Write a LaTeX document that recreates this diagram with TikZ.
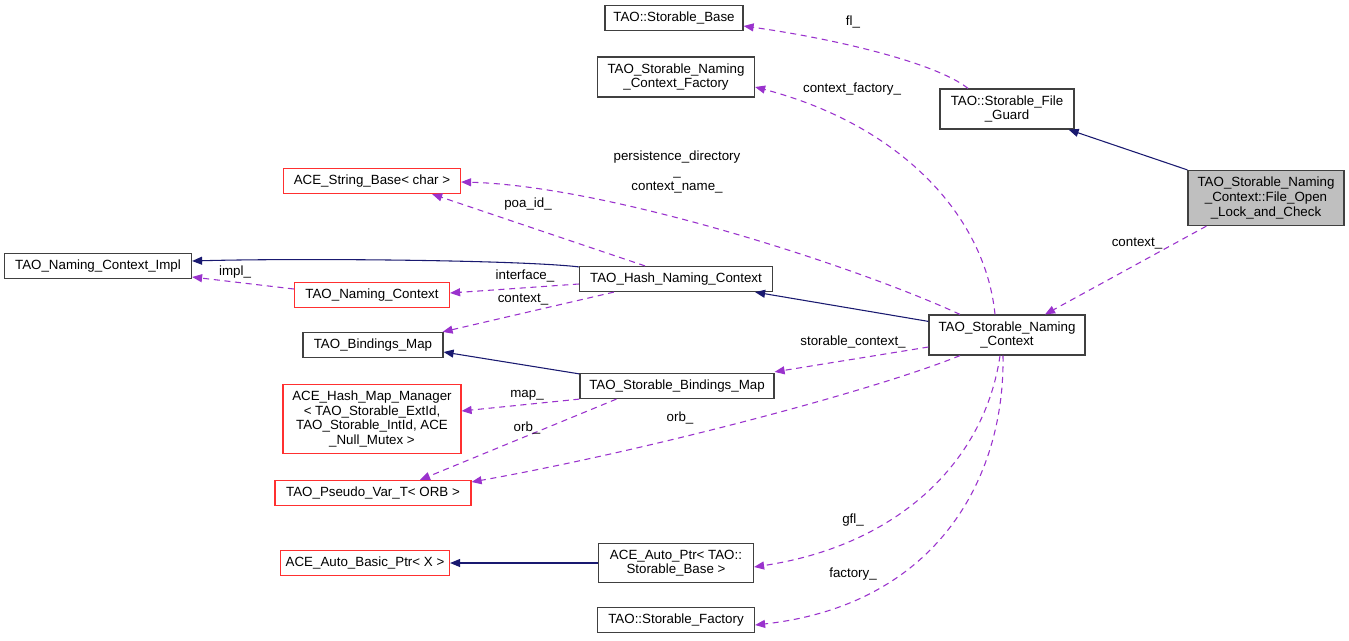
\documentclass[tikz,border=0pt]{standalone}
\usepackage{fontspec}
\setmainfont{Liberation Sans}
\usetikzlibrary{calc,arrows.meta}
\definecolor{bg}{HTML}{FFFFFF}
\definecolor{inhcol}{HTML}{191970}
\definecolor{usecol}{HTML}{9A32CD}
\definecolor{extcol}{HTML}{FF3030}
\definecolor{boxcol}{HTML}{404040}
\definecolor{focusbg}{HTML}{BFBFBF}
\tikzset{
  cls/.style={draw=boxcol, fill=bg, line width=0.9pt, align=center, inner sep=0pt,
    minimum height=18.75pt, font=\fontsize{10}{11}\selectfont},
  ext/.style={cls, draw=extcol},
  focus/.style={cls, fill=focusbg},
  inh/.style={draw=inhcol, line width=0.8pt, -{Triangle[length=7.5pt,width=6pt]}},
  use/.style={draw=usecol, line width=0.8pt, dash pattern=on 4.5pt off 3.5pt,
    -{Triangle[length=7.5pt,width=6pt]}},
  lab/.style={inner sep=0pt, align=center, font=\fontsize{10}{11}\selectfont},
}

\begin{document}
\begin{tikzpicture}[x=0.75pt, y=-0.75pt]
  \useasboundingbox[fill=bg] (0,0) rectangle (1349,640);
  % classes
  \node[cls, minimum width=103.5pt] (sbase) at (674,18) {TAO::Storable\_Base};
  \node[cls, minimum width=117.75pt, minimum height=30pt] (ncfact) at (676,77)
    {TAO\_Storable\_Naming\\\_Context\_Factory};
  \node[cls, minimum width=100.5pt, minimum height=30pt] (fguard) at (1007,109)
    {TAO::Storable\_File\\\_Guard};
  \node[focus, minimum width=117pt, minimum height=41.25pt] (fopen) at (1266,198)
    {TAO\_Storable\_Naming\\\_Context::File\_Open\\\_Lock\_and\_Check};
  \node[ext, minimum width=132.75pt] (strbase) at (372,181) {ACE\_String\_Base< char >};
  \node[cls, minimum width=140.25pt] (ncimpl) at (98,266) {TAO\_Naming\_Context\_Impl};
  \node[cls, minimum width=144.75pt] (hashnc) at (676,279) {TAO\_Hash\_Naming\_Context};
  \node[ext, minimum width=116.25pt] (namingc) at (372,295) {TAO\_Naming\_Context};
  \node[cls, minimum width=117pt, minimum height=30pt] (snc) at (1007,335)
    {TAO\_Storable\_Naming\\\_Context};
  \node[cls, minimum width=105pt] (bmap) at (373,345) {TAO\_Bindings\_Map};
  \node[cls, minimum width=145.5pt] (sbmap) at (677,386) {TAO\_Storable\_Bindings\_Map};
  \node[ext, minimum width=133.5pt, minimum height=51.75pt] (hmm) at (372,419)
    {ACE\_Hash\_Map\_Manager\\< TAO\_Storable\_ExtId,\\ TAO\_Storable\_IntId, ACE\\\_Null\_Mutex >};
  \node[ext, minimum width=147pt] (pvar) at (373,493) {TAO\_Pseudo\_Var\_T< ORB >};
  \node[ext, minimum width=126.75pt] (abptr) at (365,563) {ACE\_Auto\_Basic\_Ptr< X >};
  \node[cls, minimum width=116.25pt, minimum height=29.25pt] (aptr) at (676,563)
    {ACE\_Auto\_Ptr< TAO::\\Storable\_Base >};
  \node[cls, minimum width=117.75pt] (sfact) at (676,620) {TAO::Storable\_Factory};

  % inheritance
  \draw[inh] (fopen.north west) -- ($(fguard.south east)+(-6,0)$);
  \draw[inh] ($(hashnc.north west)+(0,1)$) .. controls (520,260) and (300,258) .. ($(ncimpl.east)+(0,-5)$);
  \draw[inh] ($(snc.north west)+(0,7)$) -- ($(hashnc.south east)+(-18,0)$);
  \draw[inh] ($(sbmap.north west)+(0,1)$) -- ($(bmap.east)+(0,7)$);
  \draw[inh] (aptr.west) -- (abptr.east);

  % usage
  \draw[use] ($(fguard.north)+(-39,0)$) .. controls (935,62) and (830,38) .. ($(sbase.east)+(0,8)$);
  \node[lab] (lfl) at (853,22) {fl\_};
  \draw[use] ($(snc.north)+(-12,0)$) .. controls (985,215) and (900,125) .. ($(ncfact.east)+(0,10)$);
  \node[lab] (lcf) at (852,89) {context\_factory\_};
  \draw[use] ($(fopen.south west)+(19,0)$) -- ($(snc.north)+(38,0)$);
  \node[lab] (lctx) at (1137,244) {context\_};
  \draw[use] ($(snc.north)+(-47,0)$) .. controls (860,268) and (610,186) .. ($(strbase.east)+(0,1)$);
  \node[lab] (lpd) at (677,172) {persistence\_directory\\\_\\context\_name\_};
  \draw[use] ($(hashnc.north)+(-31,0)$) -- ($(strbase.south east)+(-29,0)$);
  \node[lab] (lpoa) at (528,204) {poa\_id\_};
  \draw[use] ($(hashnc.west)+(0,5)$) -- ($(namingc.east)+(0,-2)$);
  \node[lab] (lif) at (525,276) {interface\_};
  \draw[use] ($(hashnc.south west)+(35,0)$) -- ($(bmap.north east)+(-1,0)$);
  \node[lab] (lctx2) at (523,300) {context\_};
  \draw[use] ($(namingc.west)+(0,-6)$) -- ($(ncimpl.east)+(0,11)$);
  \node[lab] (limpl) at (235,272) {impl\_};
  \draw[use] ($(snc.west)+(0,12)$) -- ($(sbmap.north east)+(0,-1)$);
  \node[lab] (lsc) at (853,342) {storable\_context\_};
  \draw[use] (sbmap.south west) -- ($(hmm.east)+(0,-8)$);
  \node[lab] (lmap) at (527,395) {map\_};
  \draw[use] ($(sbmap.south west)+(37,0)$) -- ($(pvar.north)+(47,0)$);
  \node[lab] (lorb) at (527,428) {orb\_};
  \draw[use] ($(snc.south)+(-47,0)$) .. controls (870,392) and (640,452) .. ($(pvar.east)+(0,-11)$);
  \node[lab] (lorb2) at (680,418) {orb\_};
  \draw[use] ($(snc.south)+(-7,0)$) .. controls (985,460) and (900,545) .. ($(aptr.east)+(0,4)$);
  \node[lab] (lgfl) at (853,520) {gfl\_};
  \draw[use] ($(snc.south)+(-4,0)$) .. controls (1005,480) and (935,605) .. ($(sfact.east)+(0,5)$);
  \node[lab] (lfac) at (853,574) {factory\_};
\end{tikzpicture}
\end{document}
